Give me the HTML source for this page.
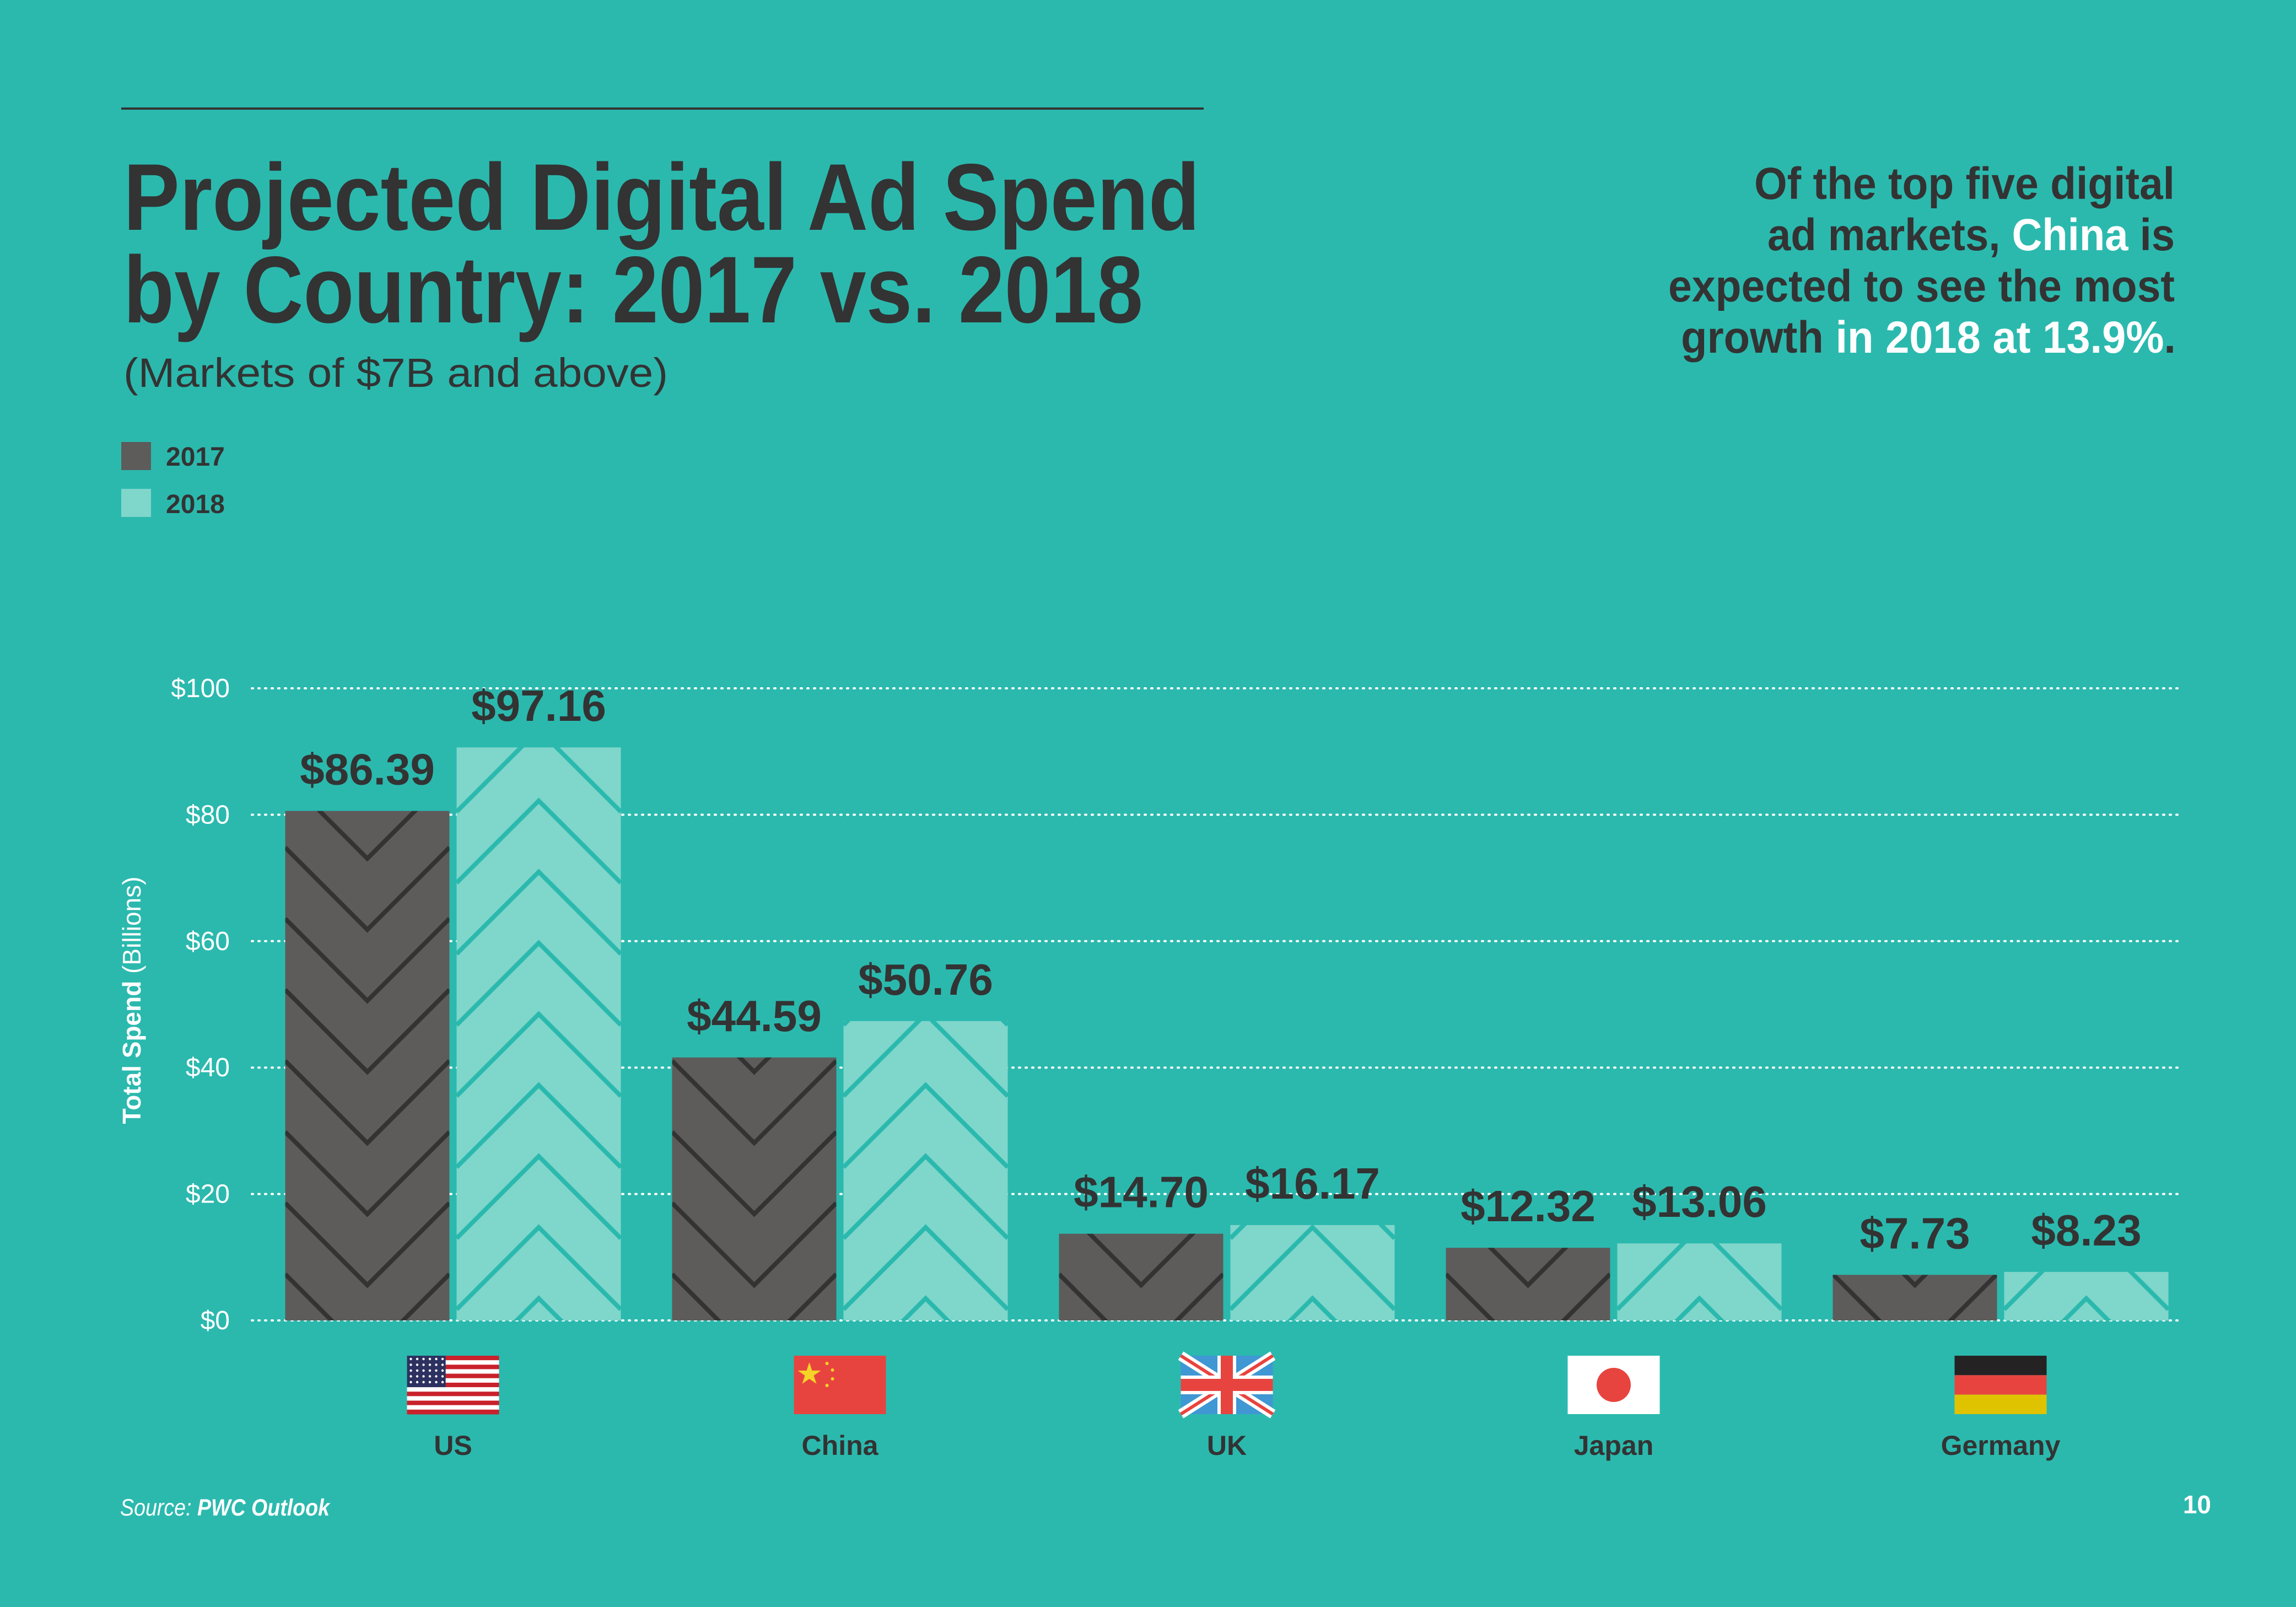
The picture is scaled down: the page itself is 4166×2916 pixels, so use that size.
<!DOCTYPE html>
<html><head><meta charset="utf-8">
<style>
html,body{margin:0;padding:0;background:#2bb9ae;}
svg{display:block;font-family:"Liberation Sans",sans-serif;}
</style></head>
<body>
<svg id="chart" width="4166" height="2916" viewBox="0 0 4166 2916" xmlns="http://www.w3.org/2000/svg">
<rect x="0" y="0" width="4166" height="2916" fill="#2bb9ae"/>
<line x1="220" y1="197" x2="2184" y2="197" stroke="#333" stroke-width="4"/>
<g fill="#333" font-weight="bold" font-size="172">
<text x="224" y="417" textLength="1953" lengthAdjust="spacingAndGlyphs">Projected Digital Ad Spend</text>
<text x="224" y="585" textLength="1850" lengthAdjust="spacingAndGlyphs">by Country: 2017 vs. 2018</text>
</g>
<text x="224" y="702" font-size="74" fill="#333" textLength="988" lengthAdjust="spacingAndGlyphs">(Markets of $7B and above)</text>
<g>
<rect x="220" y="802" width="54" height="51" fill="#5d5c5a"/>
<text x="301" y="845" font-size="48" font-weight="bold" fill="#333">2017</text>
<rect x="220" y="887" width="54" height="51" fill="#7fd6cb"/>
<text x="301" y="931" font-size="48" font-weight="bold" fill="#333">2018</text>
</g>
<g font-weight="bold" font-size="82" fill="#333" text-anchor="end">
<text x="3946" y="361" textLength="763" lengthAdjust="spacingAndGlyphs">Of the top five digital</text>
<text x="3946" y="454" textLength="739" lengthAdjust="spacingAndGlyphs">ad markets, <tspan fill="#fff">China</tspan> is</text>
<text x="3946" y="547" textLength="919" lengthAdjust="spacingAndGlyphs">expected to see the most</text>
<text x="3948" y="640" textLength="898" lengthAdjust="spacingAndGlyphs">growth <tspan fill="#fff">in 2018 at 13.9%</tspan>.</text>
</g>
<text transform="translate(255,1815) rotate(-90)" text-anchor="middle" font-size="46" fill="#fff"><tspan font-weight="bold">Total Spend</tspan> (Billions)</text>
<g id="grid"></g>
<defs id="defs"></defs>
<g id="bars"></g>
<g id="xaxis"></g>
<text x="218" y="2750" font-size="43" font-style="italic" fill="#fff" textLength="380" lengthAdjust="spacingAndGlyphs">Source: <tspan font-weight="bold">PWC Outlook</tspan></text>
<text x="4012" y="2746" font-size="46" font-weight="bold" fill="#fff" text-anchor="end">10</text>
</svg>
<script>
const categories = ["US", "China", "UK", "Japan", "Germany"];
const values2017 = [86.39, 44.59, 14.70, 12.32, 7.73];
const values2018 = [97.16, 50.76, 16.17, 13.06, 8.23];
const labels2017 = ["$86.39", "$44.59", "$14.70", "$12.32", "$7.73"];
const labels2018 = ["$97.16", "$50.76", "$16.17", "$13.06", "$8.23"];
const yTicks = [0, 20, 40, 60, 80, 100];
const yTickLabels = ["$0", "$20", "$40", "$60", "$80", "$100"];

const NS = "http://www.w3.org/2000/svg";
const Y0 = 2396, Y100 = 1249;
function y(v){ return Y0 - (Y0 - Y100) * v / 100; }
// bars in the source artwork are drawn at ~93% of axis scale
function yBar(v){ return Y0 - (Y0 - Y100) * v * 0.933 / 100; }
const CX0 = 822, STEP = 702, BW = 298, GAP = 13;
function xCenter(i){ return CX0 + STEP * i; }
function mk(tag, attrs, parent){
  const el = document.createElementNS(NS, tag);
  for (const k in attrs) el.setAttribute(k, attrs[k]);
  parent.appendChild(el);
  return el;
}
const grid = document.getElementById("grid");
yTicks.forEach((t, i) => {
  const ln = mk("line", {x1:457, x2:3960, y1:y(t), y2:y(t), stroke:"#fff", "stroke-width":4, "stroke-dasharray":"2 10", "stroke-linecap":"round"}, grid);
  
  
  const tx = mk("text", {x:417, y:y(t)+16, "text-anchor":"end", "font-size":48, fill:"#fff"}, grid);
  tx.textContent = yTickLabels[i];
  
  
});
const defs = document.getElementById("defs");
const bars = document.getElementById("bars");
const PH = 129, LW = 8;
function drawBar(i, v, label, series){
  const x = series === 0 ? xCenter(i) - GAP/2 - BW : xCenter(i) + GAP/2;
  const top = yBar(v);
  const pid = "p" + series + "_" + i;
  const pat = mk("pattern", {id:pid, patternUnits:"userSpaceOnUse", x:x, y:Y0, width:BW, height:PH}, defs);
  const bg = series === 0 ? "#5d5c5a" : "#7fd6cb";
  const lc = series === 0 ? "#333333" : "#2bb9ae";
  mk("rect", {x:0, y:0, width:BW, height:PH, fill:bg}, pat);
  const h = BW/2;
  for (let k = -3; k <= 3; k++) {
    const off = k * PH;
    let d;
    if (series === 0) d = `M0 ${off - 64 - h} L${h} ${off - 64} L${BW} ${off - 64 - h}`;
    else d = `M0 ${off - 40 + h} L${h} ${off - 40} L${BW} ${off - 40 + h}`;
    mk("path", {d:d, fill:"none", stroke:lc, "stroke-width":LW}, pat);
  }
  const r = mk("rect", {x:x, y:top, width:BW, height:Y0 - top, fill:`url(#${pid})`}, bars);
  
  
  const t = mk("text", {x:x + BW/2, y:top - 48, "text-anchor":"middle", "font-size":80, "font-weight":"bold", fill:"#333"}, bars);
  t.textContent = label;
  
  
}
categories.forEach((c, i) => {
  drawBar(i, values2017[i], labels2017[i], 0);
  drawBar(i, values2018[i], labels2018[i], 1);
});
const xa = document.getElementById("xaxis");
const FW = 167, FH = 106, FY = 2460;
function flag(i){
  const g = mk("g", {transform:`translate(${xCenter(i) - FW/2},${FY})`}, xa);
  
  
  const c = categories[i];
  if (c === "US") {
    for (let s = 0; s < 13; s++) mk("rect", {x:0, y:s*FH/13, width:FW, height:FH/13+0.5, fill: s%2 ? "#fff" : "#c9212b"}, g);
    mk("rect", {x:0, y:0, width:FW*0.42, height:FH*7/13, fill:"#2d3160"}, g);
    for (let r = 0; r < 5; r++) for (let q = 0; q < 6; q++) mk("circle", {cx:7+q*11.5, cy:6+r*10.5, r:2.2, fill:"#fff"}, g);
  } else if (c === "China") {
    mk("rect", {x:0, y:0, width:FW, height:FH, fill:"#e8443f"}, g);
    mk("polygon", {points:"28,12 33,27 49,27 36,36 41,51 28,42 15,51 20,36 7,27 23,27", fill:"#f5d327"}, g);
    [[60,14],[70,26],[70,42],[60,54]].forEach(p => mk("circle", {cx:p[0], cy:p[1], r:3, fill:"#f5d327"}, g));
  } else if (c === "UK") {
    mk("rect", {x:0, y:0, width:FW, height:FH, fill:"#3f97d4"}, g);
    mk("path", {d:`M0 0L${FW} ${FH}M${FW} 0L0 ${FH}`, stroke:"#fff", "stroke-width":18}, g);
    mk("path", {d:`M0 0L${FW} ${FH}M${FW} 0L0 ${FH}`, stroke:"#e8443f", "stroke-width":6}, g);
    mk("rect", {x:0, y:FH/2-17, width:FW, height:34, fill:"#fff"}, g);
    mk("rect", {x:FW/2-17, y:0, width:34, height:FH, fill:"#fff"}, g);
    mk("rect", {x:0, y:FH/2-11, width:FW, height:22, fill:"#e8443f"}, g);
    mk("rect", {x:FW/2-11, y:0, width:22, height:FH, fill:"#e8443f"}, g);
  } else if (c === "Japan") {
    mk("rect", {x:0, y:0, width:FW, height:FH, fill:"#fff"}, g);
    mk("circle", {cx:FW/2, cy:FH/2, r:31, fill:"#e8443f"}, g);
  } else {
    mk("rect", {x:0, y:0, width:FW, height:FH/3, fill:"#242223"}, g);
    mk("rect", {x:0, y:FH/3, width:FW, height:FH/3, fill:"#e8443f"}, g);
    mk("rect", {x:0, y:2*FH/3, width:FW, height:FH/3, fill:"#e0c300"}, g);
  }
}
categories.forEach((c, i) => {
  flag(i);
  const t = mk("text", {x:xCenter(i), y:2640, "text-anchor":"middle", "font-size":50, "font-weight":"bold", fill:"#333"}, xa);
  t.textContent = c;
  
  
});
</script>
</body></html>
